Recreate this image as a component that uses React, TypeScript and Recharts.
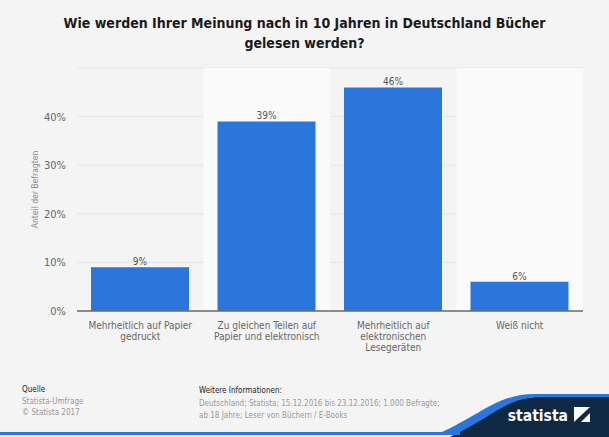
import { Bar, BarChart, CartesianGrid, LabelList, ReferenceArea, XAxis, YAxis } from "recharts"

const categories = [
  "Mehrheitlich auf Papier\ngedruckt",
  "Zu gleichen Teilen auf\nPapier und elektronisch",
  "Mehrheitlich auf\nelektronischen\nLesegeräten",
  "Weiß nicht",
]
const shares = [9, 39, 46, 6]
const yTicks = [0, 10, 20, 30, 40, 50]
const shadedBands = [categories[1], categories[3]]

const data = categories.map((name, i) => ({ name, value: shares[i] }))

const FONT = "'DejaVu Sans Condensed', 'DejaVu Sans', sans-serif"

function CategoryTick(props: any) {
  const { x, y, payload } = props
  const lines = String(payload.value).split("\n")
  return (
    <text x={x} y={y} textAnchor="middle" fill="#666" fontSize={10} fontFamily={FONT}>
      {lines.map((line, i) => (
        <tspan key={i} x={x} dy={i === 0 ? 10 : 11}>
          {line}
        </tspan>
      ))}
    </text>
  )
}

function YTick(props: any) {
  const { x, y, payload } = props
  if (payload.value === 50) return null
  return (
    <text x={x} y={y} dy={4} textAnchor="end" fill="#666" fontSize={11} fontFamily={FONT}>
      {payload.value}%
    </text>
  )
}

export default function App() {
  return (
    <div
      style={{
        position: "absolute",
        left: 0,
        top: 0,
        width: 609,
        height: 437,
        background: "#f4f4f4",
        overflow: "hidden",
        fontFamily: FONT,
      }}
    >
      <div
        style={{
          position: "absolute",
          top: 13,
          left: 0,
          width: 609,
          textAlign: "center",
          fontWeight: "bold",
          fontSize: 14,
          lineHeight: "20px",
          color: "#1a1a1a",
        }}
      >
        Wie werden Ihrer Meinung nach in 10 Jahren in Deutschland Bücher
        <br />
        gelesen werden?
      </div>

      <div style={{ position: "absolute", left: 0, top: 0 }}>
        <BarChart
          width={609}
          height={437}
          data={data}
          margin={{ top: 68, right: 26, bottom: 0, left: 0 }}
        >
          {shadedBands.map((c) => (
            <ReferenceArea key={c} x1={c} x2={c} y1={0} y2={50} fill="#fafafa" fillOpacity={1} stroke="none" ifOverflow="visible" />
          ))}
          <CartesianGrid vertical={false} stroke="#e4e4e4" />
          <XAxis
            dataKey="name"
            height={126}
            tickLine={false}
            axisLine={{ stroke: "#6b6b6b", strokeWidth: 1.5 }}
            interval={0}
            tick={<CategoryTick />}
          />
          <YAxis
            width={77}
            domain={[0, 50]}
            ticks={yTicks}
            tickLine={false}
            axisLine={false}
            tickMargin={5}
            tick={<YTick />}
            label={{
              value: "Anteil der Befragten",
              angle: -90,
              position: "insideLeft",
              dx: 30,
              fill: "#888",
              fontSize: 8.5,
              fontFamily: FONT,
              style: { textAnchor: "middle" },
            }}
          />
          <Bar dataKey="value" fill="#2a76dd" barSize={98} isAnimationActive={false}>
            <LabelList
              dataKey="value"
              position="top"
              offset={2}
              formatter={(v: any) => `${v}%`}
              fill="#555"
              fontSize={10}
              fontFamily={FONT}
            />
          </Bar>
        </BarChart>
      </div>

      <div style={{ position: "absolute", left: 22, top: 384, fontSize: 8, lineHeight: "11.5px", color: "#999" }}>
        <div style={{ color: "#222" }}>Quelle</div>
        <div>Statista-Umfrage</div>
        <div>© Statista 2017</div>
      </div>
      <div style={{ position: "absolute", left: 199, top: 385, fontSize: 8, lineHeight: "12px", color: "#999" }}>
        <div style={{ color: "#222", marginBottom: 1 }}>Weitere Informationen:</div>
        <div>Deutschland; Statista; 15.12.2016 bis 23.12.2016; 1.000 Befragte;</div>
        <div>ab 18 Jahre; Leser von Büchern / E-Books</div>
      </div>

      <svg width={609} height={437} style={{ position: "absolute", left: 0, top: 0 }}>
        <path d="M 450 437 C 490 415, 505 397, 540 397 L 609 397 L 609 437 Z" fill="#0f2944" />
        <path d="M 440 433 C 482 414, 498 394, 535 394 L 609 394 L 609 397 L 540 397 C 507 398, 494 415, 458 433 Z" fill="#2a76dd" />
        <rect x={0} y={432} width={460} height={3} fill="#2a76dd" />
        <text x={568} y={421} textAnchor="end" fill="#fff" fontSize={15.5} fontWeight="bold" fontFamily={FONT}>
          statista
        </text>
        <rect x={574} y={407} width={16} height={15} fill="#fff" />
        <path d="M 574 422 L 590 407 L 590 413 L 581 422 Z" fill="#0f2944" />
      </svg>
    </div>
  )
}
